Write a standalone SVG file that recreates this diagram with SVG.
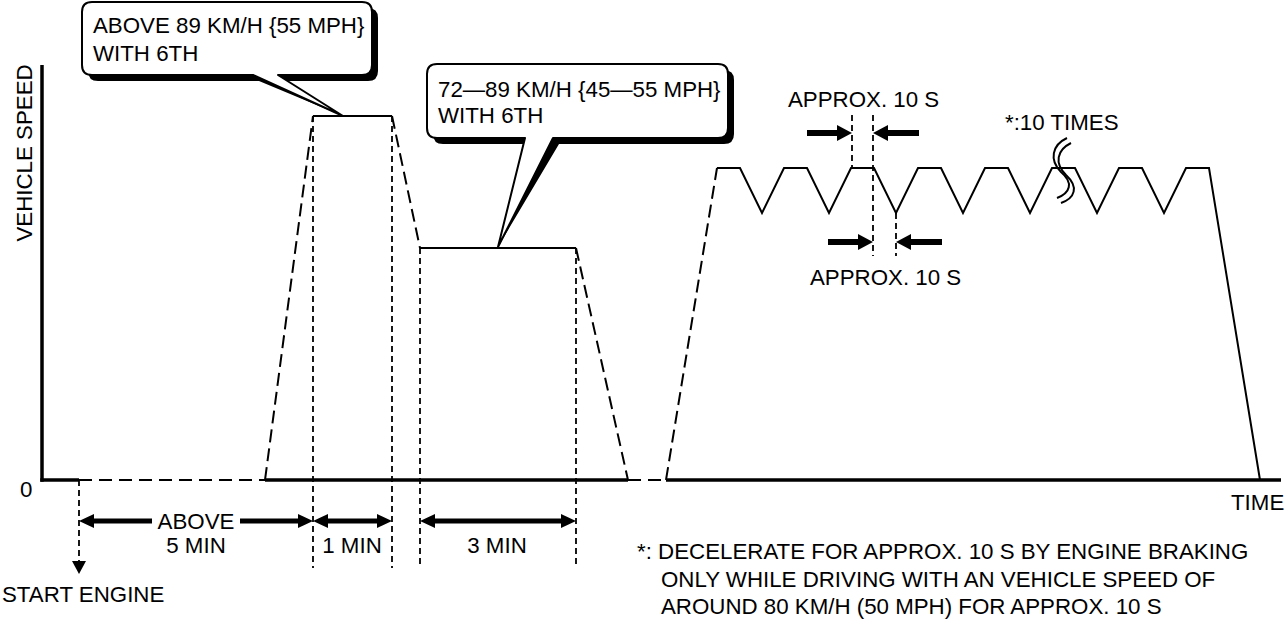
<svg xmlns="http://www.w3.org/2000/svg" width="1285" height="624" viewBox="0 0 1285 624">
<style>
text{font-family:"Liberation Sans",Arial,sans-serif;font-size:22.3px;fill:#000}
.sol{fill:none;stroke:#000;stroke-width:2;stroke-linejoin:miter}
.dsh{fill:none;stroke:#000;stroke-width:2;stroke-dasharray:13 6}
.vd{fill:none;stroke:#000;stroke-width:1.8;stroke-dasharray:6 4}
.axis{fill:none;stroke:#000;stroke-width:3.5}
.axd{fill:none;stroke:#000;stroke-width:2;stroke-dasharray:13 7}
.arr{fill:none;stroke:#000;stroke-width:5}
.arr2{fill:none;stroke:#000;stroke-width:6}
.mid{text-anchor:middle}
</style>
<defs>
<marker id="ah" viewBox="0 0 15 14" refX="5" refY="7" markerWidth="15" markerHeight="14" markerUnits="userSpaceOnUse" orient="auto-start-reverse">
<path d="M0,0 L15,7 L0,14 Z" fill="#000"/>
</marker>
<marker id="ah2" viewBox="0 0 15 16" refX="5" refY="8" markerWidth="15" markerHeight="16" markerUnits="userSpaceOnUse" orient="auto">
<path d="M0,0 L15,8 L0,16 Z" fill="#000"/>
</marker>
</defs>

<g id="axes">
<line class="axis" x1="42" y1="65" x2="42" y2="481.7"/>
<line class="axis" x1="40.3" y1="480" x2="79" y2="480"/>
<line class="axd" x1="79" y1="480" x2="265" y2="480"/>
<line class="axis" x1="265" y1="480" x2="628" y2="480"/>
<line class="axd" x1="628" y1="480" x2="666" y2="480"/>
<line class="axis" x1="666" y1="480" x2="1281" y2="480"/>
<text x="32" y="153" class="mid" transform="rotate(-90 32 153)">VEHICLE SPEED</text>
<text x="20" y="497">0</text>
<text x="1231" y="510">TIME</text>
</g>

<g id="connectors">
<line class="dsh" x1="265" y1="480" x2="313" y2="116"/>
<polyline class="sol" points="313,116 392,116"/>
<line class="dsh" x1="392" y1="116" x2="420" y2="248"/>
<polyline class="sol" points="420,248 576,248"/>
<line class="dsh" x1="576" y1="248" x2="628" y2="480"/>
<line class="dsh" x1="666" y1="480" x2="717" y2="168"/>
<polyline class="sol" points="717,168 740,168 762,213 784,168 807,168 829,213 851,168 874,168 896,213 918,168 941,168 963,213 985,168 1008,168 1030,213 1052,168 1075,168 1097,213 1119,168 1142,168 1164,213 1186,168 1209,168 1260,480"/>
<path class="sol" d="M1067,138 C1052,145 1049,160 1061,172 C1074,183 1070,193 1057,198"/>
<path class="sol" d="M1071,143 C1057,150 1054,163 1066,175 C1079,187 1075,198 1061,203"/>
<line class="vd" x1="79" y1="480" x2="79" y2="562"/>
<polygon points="72,561 86,561 79,574" fill="#000"/>
<line class="vd" x1="313" y1="116" x2="313" y2="568"/>
<line class="vd" x1="392" y1="116" x2="392" y2="568"/>
<line class="vd" x1="420" y1="248" x2="420" y2="568"/>
<line class="vd" x1="576" y1="248" x2="576" y2="568"/>
<line class="vd" x1="852" y1="115" x2="852" y2="168"/>
<line class="vd" x1="873" y1="115" x2="873" y2="256"/>
<line class="vd" x1="896" y1="213" x2="896" y2="256"/>
<line class="arr" x1="152" y1="521" x2="89" y2="521" marker-end="url(#ah)"/>
<line class="arr" x1="240" y1="521" x2="303" y2="521" marker-end="url(#ah)"/>
<line class="arr" x1="323" y1="521" x2="382" y2="521" marker-start="url(#ah)" marker-end="url(#ah)"/>
<line class="arr" x1="430" y1="521" x2="566" y2="521" marker-start="url(#ah)" marker-end="url(#ah)"/>
<line class="arr2" x1="807" y1="133" x2="842" y2="133" marker-end="url(#ah2)"/>
<line class="arr2" x1="919" y1="133" x2="883" y2="133" marker-end="url(#ah2)"/>
<line class="arr2" x1="828" y1="242" x2="863" y2="242" marker-end="url(#ah2)"/>
<line class="arr2" x1="942" y1="242" x2="906" y2="242" marker-end="url(#ah2)"/>
</g>

<g id="callout-high">
<path d="M98,8 H368 Q378,8 378,18 V71 Q378,81 368,81 H284 L343,116 L259,81 H98 Q88,81 88,71 V18 Q88,8 98,8 Z" fill="#000"/>
<path d="M92,2 H362 Q372,2 372,12 V65 Q372,75 362,75 H278 L343,116 L253,75 H92 Q82,75 82,65 V12 Q82,2 92,2 Z" fill="#fff" stroke="#000" stroke-width="2" stroke-linejoin="round"/>
<text x="93" y="33">ABOVE 89 KM/H {55 MPH}</text>
<text x="93" y="61">WITH 6TH</text>
</g>

<g id="callout-mid">
<path d="M443,70 H724 Q734,70 734,80 V134 Q734,144 724,144 H559 L498,247 L531,144 H443 Q433,144 433,134 V80 Q433,70 443,70 Z" fill="#000"/>
<path d="M437,64 H718 Q728,64 728,74 V128 Q728,138 718,138 H553 L498,247 L525,138 H437 Q427,138 427,128 V74 Q427,64 437,64 Z" fill="#fff" stroke="#000" stroke-width="2" stroke-linejoin="round"/>
<text x="438" y="97">72—89 KM/H {45—55 MPH}</text>
<text x="438" y="123">WITH 6TH</text>
</g>

<g id="labels">
<text x="2" y="602">START ENGINE</text>
<text x="196" y="529" class="mid">ABOVE</text>
<text x="196" y="553" class="mid">5 MIN</text>
<text x="352" y="553" class="mid">1 MIN</text>
<text x="497" y="553" class="mid">3 MIN</text>
<text x="788" y="107">APPROX. 10 S</text>
<text x="810" y="285">APPROX. 10 S</text>
<text x="1005" y="130">*:10 TIMES</text>
</g>

<g id="note">
<text x="637" y="559">*: DECELERATE FOR APPROX. 10 S BY ENGINE BRAKING</text>
<text x="661" y="587">ONLY WHILE DRIVING WITH AN VEHICLE SPEED OF</text>
<text x="661" y="614">AROUND 80 KM/H (50 MPH) FOR APPROX. 10 S</text>
</g>
</svg>
